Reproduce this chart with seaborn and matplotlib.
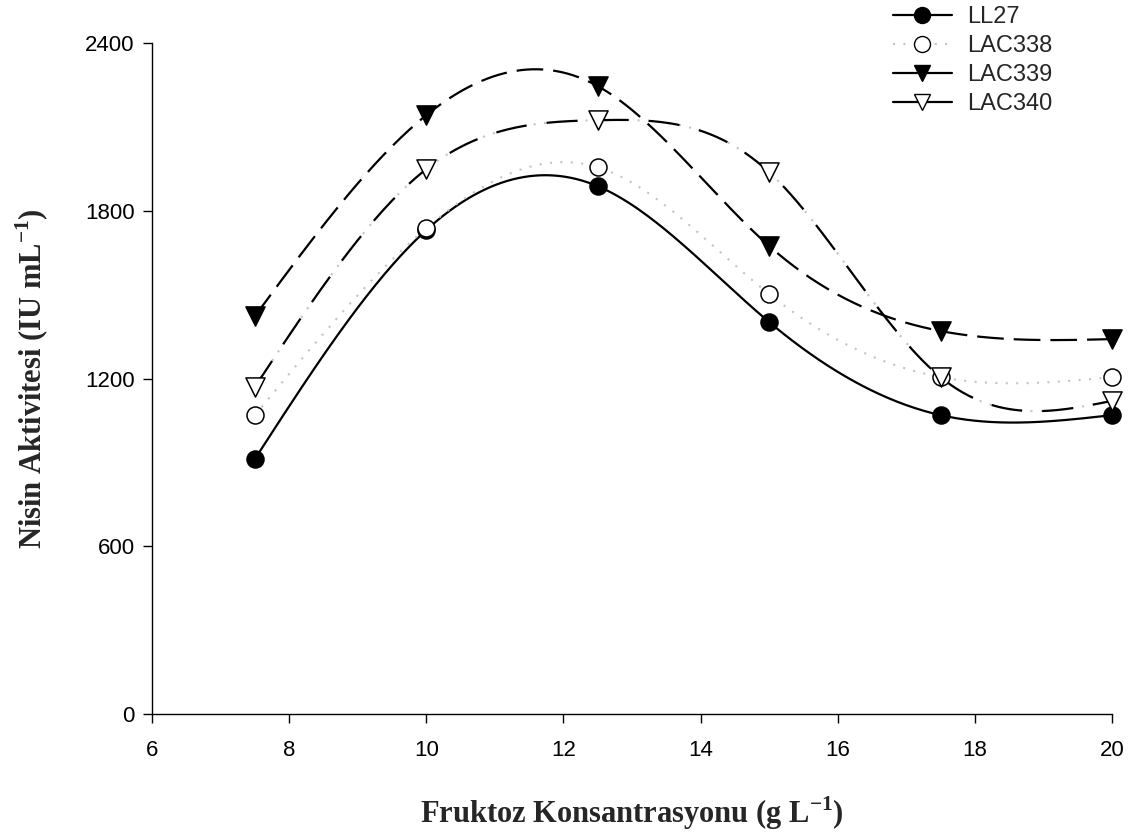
import numpy as np
import pandas as pd
import matplotlib
matplotlib.use("Agg")
import matplotlib.pyplot as plt
import seaborn as sns
from matplotlib.lines import Line2D

# Fructose concentration (g/L) and nisin activity (IU/mL) per strain
fructose = [7.5, 10, 12.5, 15, 17.5, 20]
ll27 = [912, 1731, 1888, 1402, 1069, 1069]
lac338 = [1069, 1738, 1956, 1502, 1205, 1205]
lac339 = [1423, 2142, 2246, 1674, 1370, 1341]
lac340 = [1170, 1949, 2124, 1938, 1205, 1120]

x_ticks = [6, 8, 10, 12, 14, 16, 18, 20]
y_ticks = [0, 600, 1200, 1800, 2400]


def natural_spline(x, y, n=300):
    """Natural cubic spline through (x, y), evaluated on a dense grid."""
    x = np.asarray(x, float)
    y = np.asarray(y, float)
    k = len(x)
    h = np.diff(x)
    A = np.zeros((k, k))
    b = np.zeros(k)
    A[0, 0] = A[-1, -1] = 1.0
    for i in range(1, k - 1):
        A[i, i - 1] = h[i - 1]
        A[i, i] = 2 * (h[i - 1] + h[i])
        A[i, i + 1] = h[i]
        b[i] = 6 * ((y[i + 1] - y[i]) / h[i] - (y[i] - y[i - 1]) / h[i - 1])
    m = np.linalg.solve(A, b)
    xs = np.linspace(x[0], x[-1], n)
    idx = np.clip(np.searchsorted(x, xs) - 1, 0, k - 2)
    x0, x1 = x[idx], x[idx + 1]
    hh = x1 - x0
    t0 = x1 - xs
    t1 = xs - x0
    ys = (m[idx] * t0 ** 3 / (6 * hh) + m[idx + 1] * t1 ** 3 / (6 * hh)
          + (y[idx] / hh - m[idx] * hh / 6) * t0
          + (y[idx + 1] / hh - m[idx + 1] * hh / 6) * t1)
    return xs, ys


sns.set_theme(style="ticks")
plt.rcParams["font.family"] = ["Liberation Sans", "DejaVu Sans"]
plt.rcParams["mathtext.fontset"] = "custom"
plt.rcParams["mathtext.bf"] = "Liberation Serif:bold"
plt.rcParams["mathtext.rm"] = "Liberation Serif"

fig = plt.figure(figsize=(11.37, 8.39), dpi=100)
ax = fig.add_axes([0.1337, 0.149, 0.8443, 0.7997])

series = [
    ("LL27", ll27, "o", "black"),
    ("LAC338", lac338, "o", "white"),
    ("LAC339", lac339, "v", "black"),
    ("LAC340", lac340, "v", "white"),
]

dots = dict(color="#c4c4c4", lw=1.5, ls=(0, (1, 4)))
line_kw = {
    "LL27": [dict(color="black", lw=1.6, ls="-")],
    "LAC338": [dots],
    "LAC339": [dict(color="black", lw=1.6, ls=(0, (12, 4.5)))],
    "LAC340": [dots, dict(color="black", lw=1.6, ls=(0, (14, 9)))],
}

for name, vals, mk, fc in series:
    xs, ys = natural_spline(fructose, vals)
    for kw in line_kw[name]:
        sns.lineplot(x=xs, y=ys, ax=ax, sort=False, estimator=None, **kw)

for name, vals, mk, fc in series:
    sns.scatterplot(x=fructose, y=vals, ax=ax, marker=mk, s=150 if mk == "o" else 190,
                    color=fc, edgecolor="black", linewidth=1.1, zorder=5, clip_on=False)

ax.set_xlim(6, 20)
ax.set_ylim(0, 2400)
ax.set_xticks(x_ticks)
ax.set_yticks(y_ticks)
ax.tick_params(direction="out", length=6.5, width=1, labelsize=16, colors="black")
ax.tick_params(axis="x", pad=12)
ax.tick_params(axis="y", pad=6)
for s in ("top", "right"):
    ax.spines[s].set_visible(False)
for s in ("left", "bottom"):
    ax.spines[s].set_color("black")
    ax.spines[s].set_linewidth(1)

label_font = dict(family="Liberation Serif", fontweight="bold", fontsize=22)
ax.set_xlabel(r"Fruktoz Konsantrasyonu (g L$^{\mathbf{-1}}$)", **label_font)
ax.set_ylabel(r"Nisin Aktivitesi (IU mL$^{\mathbf{-1}}$)", **label_font)
ax.xaxis.set_label_coords(0.5, -0.12)
ax.yaxis.set_label_coords(-0.105, 0.5)

handles = [
    Line2D([], [], color="black", lw=1.6, marker="o", markersize=11.5,
           markerfacecolor="black", markeredgecolor="black"),
    Line2D([], [], color="#c4c4c4", lw=1.5, ls=(0, (1, 4)), marker="o", markersize=11.5,
           markerfacecolor="white", markeredgecolor="black"),
    Line2D([], [], color="black", lw=1.6, ls="-", marker="v", markersize=12,
           markerfacecolor="black", markeredgecolor="black"),
    Line2D([], [], color="black", lw=1.6, ls="-", marker="v", markersize=12,
           markerfacecolor="white", markeredgecolor="black"),
]
fig.legend(handles, [s[0] for s in series], loc="upper left",
           bbox_to_anchor=(0.785, 0.993), frameon=False, fontsize=17,
           borderpad=0, borderaxespad=0,
           handlelength=2.5, handletextpad=0.65, labelspacing=0.3)

fig.savefig("out.png", dpi=100)
